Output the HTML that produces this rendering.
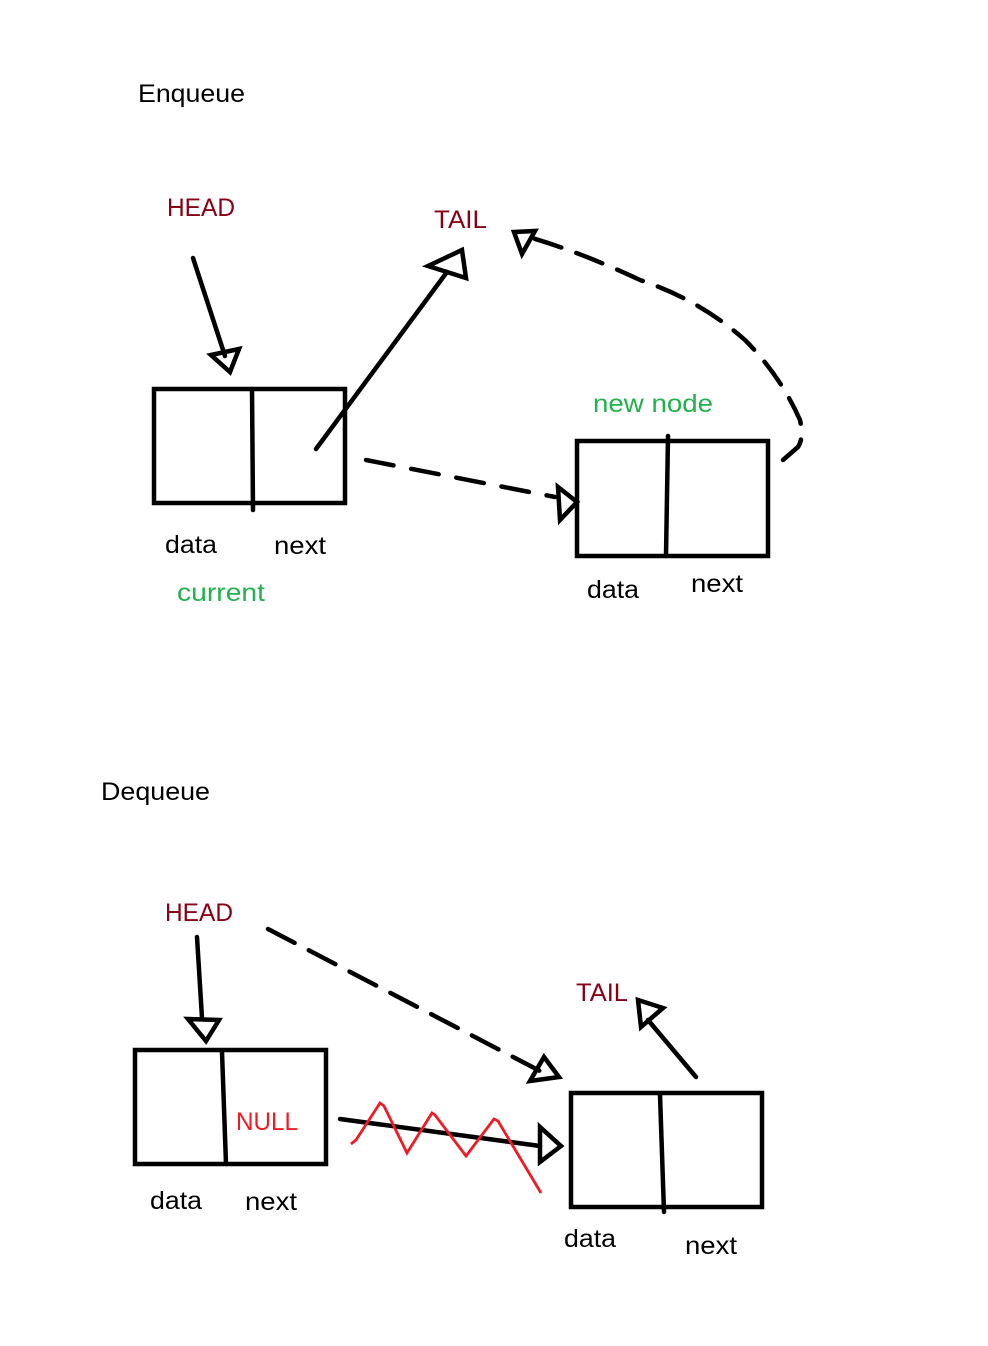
<!DOCTYPE html>
<html><head><meta charset="utf-8"><style>
html,body{margin:0;padding:0;background:#fff;}
svg{display:block;}
text{font-family:"Liberation Sans",sans-serif;font-size:25px;}
</style></head><body>
<svg width="988" height="1346" viewBox="0 0 988 1346" xmlns="http://www.w3.org/2000/svg">
<g fill="none" stroke="#000" stroke-width="4.5" stroke-linejoin="miter" stroke-linecap="round">
<!-- Enqueue -->
<rect x="154" y="389" width="191" height="114"/>
<line x1="252" y1="389" x2="253" y2="510"/>
<line x1="193" y1="258" x2="225" y2="356"/>
<polygon points="211,355 239,349 230,372"/>
<line x1="316" y1="449" x2="447" y2="272"/>
<polygon points="428,266 462,250 466,278"/>
<path d="M366,460 L555,497" stroke-dasharray="28,18"/>
<polygon points="558,487 577,502 560,520"/>
<rect x="577" y="441" width="191" height="115"/>
<line x1="668" y1="436" x2="666" y2="556"/>
<path d="M783,460 L798,447 Q804,438 800,420 Q780,375 745,340 Q700,300 640,280 Q580,252 532,238" stroke-dasharray="28,16"/>
<polygon points="514,232 535,231 522,254"/>
<!-- Dequeue -->
<rect x="135" y="1050" width="191" height="114"/>
<line x1="222" y1="1052" x2="226" y2="1164"/>
<line x1="197" y1="937" x2="202" y2="1018"/>
<polygon points="188,1019 219,1020 206,1041"/>
<path d="M268,929 L540,1071" stroke-dasharray="30,16"/>
<polygon points="544,1057 559,1077 530,1081"/>
<rect x="571" y="1093" width="191" height="114"/>
<line x1="660" y1="1095" x2="664" y2="1212"/>
<line x1="696" y1="1077" x2="648" y2="1020"/>
<polygon points="638,1000 663,1008 641,1027"/>
<line x1="340" y1="1119" x2="540" y2="1146"/>
<polygon points="540,1127 561,1146 540,1162"/>
</g>
<polyline points="351,1144 356,1140 380,1103 384,1106 407,1153 432,1113 435,1115 466,1156 494,1119 498,1121 541,1193" fill="none" stroke="#ed1c24" stroke-width="2.8"/>
<g fill="#000">
<text x="138" y="102" textLength="107" lengthAdjust="spacingAndGlyphs">Enqueue</text>
<text x="165" y="553" textLength="52" lengthAdjust="spacingAndGlyphs">data</text>
<text x="274" y="554" textLength="52" lengthAdjust="spacingAndGlyphs">next</text>
<text x="587" y="598" textLength="52" lengthAdjust="spacingAndGlyphs">data</text>
<text x="691" y="592" textLength="52" lengthAdjust="spacingAndGlyphs">next</text>
<text x="101" y="800" textLength="109" lengthAdjust="spacingAndGlyphs">Dequeue</text>
<text x="150" y="1209" textLength="52" lengthAdjust="spacingAndGlyphs">data</text>
<text x="245" y="1210" textLength="52" lengthAdjust="spacingAndGlyphs">next</text>
<text x="564" y="1247" textLength="52" lengthAdjust="spacingAndGlyphs">data</text>
<text x="685" y="1254" textLength="52" lengthAdjust="spacingAndGlyphs">next</text>
</g>
<g fill="#880015">
<text x="167" y="216" textLength="68" lengthAdjust="spacingAndGlyphs">HEAD</text>
<text x="434" y="228" textLength="53" lengthAdjust="spacingAndGlyphs">TAIL</text>
<text x="165" y="921" textLength="68" lengthAdjust="spacingAndGlyphs">HEAD</text>
<text x="576" y="1001" textLength="52" lengthAdjust="spacingAndGlyphs">TAIL</text>
</g>
<g fill="#22b14c">
<text x="177" y="601" textLength="88" lengthAdjust="spacingAndGlyphs">current</text>
<text x="593" y="412" textLength="120" lengthAdjust="spacingAndGlyphs">new node</text>
</g>
<text x="236" y="1130" fill="#ed1c24" textLength="62" lengthAdjust="spacingAndGlyphs">NULL</text>
</svg>
</body></html>
